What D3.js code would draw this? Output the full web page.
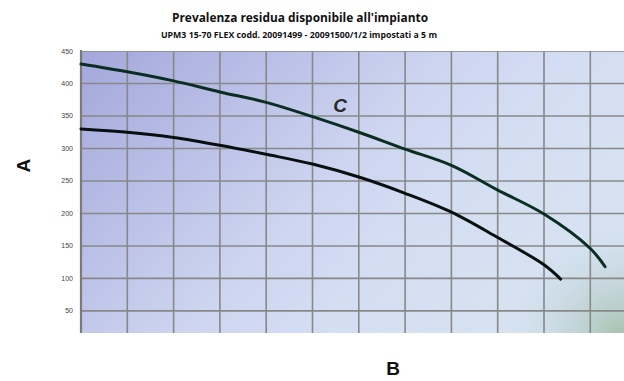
<!DOCTYPE html>
<html><head><meta charset="utf-8">
<script src="https://cdn.jsdelivr.net/npm/d3@7"></script>
<style>body{margin:0;background:#fff}svg{display:block}
.rotA{transform-box:fill-box;transform-origin:center;transform:rotate(-90deg)}</style>
</head><body>
<script>
const yTicks = [50,100,150,200,250,300,350,400,450];
const xGrid = [0,1,2,3,4,5,6,7,8,9,10,11];
const upperX = [0,1,2,3,4,5,6,7,8,9,10,11,11.32];
const upperY = [430,418,404,387,371,349,325,299,274,236,199,146,118];
const lowerX = [0,1,2,3,4,5,6,7,8,9,10,10.36];
const lowerY = [330,325,317,305,291,276,256,231,202,163,121,99];
const title = "Prevalenza residua disponibile all'impianto";
const subtitle = "UPM3 15-70 FLEX codd. 20091499 - 20091500/1/2 impostati a 5 m";

const W=624,H=381;
const svg=d3.select("body").append("svg").attr("width",W).attr("height",H);
const x=d3.scaleLinear().domain([0,12]).range([81,81+12*46.3]);
const y=d3.scaleLinear().domain([16,450]).range([333,51]);
const L=81,T=51,R=624,B=333;

const defs=svg.append("defs");
const lg=defs.append("linearGradient").attr("id","bg").attr("x1","0").attr("y1","0").attr("x2","1").attr("y2","0.5");
[["0","#a3a7db"],["0.3","#bac0e7"],["0.55","#cdd5f0"],["0.75","#d4def3"],["1","#d6e2f1"]].forEach(s=>lg.append("stop").attr("offset",s[0]).attr("stop-color",s[1]));
const rg=defs.append("radialGradient").attr("id","gr").attr("gradientUnits","userSpaceOnUse").attr("cx",624).attr("cy",340).attr("r",115);
rg.append("stop").attr("offset","0").attr("stop-color","#a2c0aa").attr("stop-opacity",1);
rg.append("stop").attr("offset","0.45").attr("stop-color","#b4cbc4").attr("stop-opacity",0.55);
rg.append("stop").attr("offset","1").attr("stop-color","#c8d8e8").attr("stop-opacity",0);
defs.append("clipPath").attr("id","clip").append("rect").attr("x",L).attr("y",T).attr("width",R-L).attr("height",B-T);

svg.append("rect").attr("x",L).attr("y",T).attr("width",R-L).attr("height",B-T).attr("fill","url(#bg)");
svg.append("rect").attr("x",L).attr("y",T).attr("width",R-L).attr("height",B-T).attr("fill","url(#gr)");

const g=svg.append("g").attr("clip-path","url(#clip)");
g.selectAll(".hg").data(yTicks).join("line").attr("x1",L).attr("x2",R).attr("y1",d=>y(d)).attr("y2",d=>y(d)).attr("stroke","#888").attr("stroke-width",1.6);
g.selectAll(".vg").data(xGrid.slice(1)).join("line").attr("y1",T).attr("y2",B).attr("x1",d=>x(d)).attr("x2",d=>x(d)).attr("stroke","#888").attr("stroke-width",1.6);
svg.append("line").attr("x1",L).attr("x2",L).attr("y1",T-1).attr("y2",B).attr("stroke","#7a7a7a").attr("stroke-width",2.2);

const line=d3.line().x(d=>x(d[0])).y(d=>y(d[1])).curve(d3.curveCatmullRom.alpha(0.5));
svg.append("path").attr("d",line(upperX.map((v,i)=>[v,upperY[i]]))).attr("fill","none").attr("stroke","#0b2e22").attr("stroke-width",3).attr("stroke-linecap","round");
svg.append("path").attr("d",line(lowerX.map((v,i)=>[v,lowerY[i]]))).attr("fill","none").attr("stroke","#0a0f0f").attr("stroke-width",3).attr("stroke-linecap","round");

svg.selectAll(".yt").data(yTicks).join("text").attr("x",73).attr("y",d=>y(d)+2.5).attr("text-anchor","end")
  .attr("font-family","Liberation Sans, Arial, sans-serif").attr("font-size",7).attr("fill","#444").text(d=>d);

svg.append("text").attr("x",300).attr("y",22).attr("text-anchor","middle").attr("font-family","Open Sans, sans-serif").attr("font-weight","bold").attr("font-size",12.5).attr("fill","#111").attr("textLength",256).attr("lengthAdjust","spacingAndGlyphs").text(title);
svg.append("text").attr("x",299).attr("y",38).attr("text-anchor","middle").attr("font-family","Open Sans, sans-serif").attr("font-weight","bold").attr("font-size",8.5).attr("fill","#111").attr("textLength",276).attr("lengthAdjust","spacingAndGlyphs").text(subtitle);

svg.append("text").attr("class","rotA").attr("x",23).attr("y",172).attr("text-anchor","middle").attr("font-family","Liberation Sans, Arial, sans-serif").attr("font-weight","bold").attr("font-size",19).attr("fill","#111").text("A");
svg.append("text").attr("x",393).attr("y",375).attr("text-anchor","middle").attr("font-family","Liberation Sans, Arial, sans-serif").attr("font-weight","bold").attr("font-size",19).attr("fill","#111").text("B");
svg.append("text").attr("x",340).attr("y",112).attr("text-anchor","middle").attr("font-family","Liberation Sans, Arial, sans-serif").attr("font-weight","bold").attr("font-style","italic").attr("font-size",19).attr("fill","#2a2a2a").text("C");
</script>
</body></html>
